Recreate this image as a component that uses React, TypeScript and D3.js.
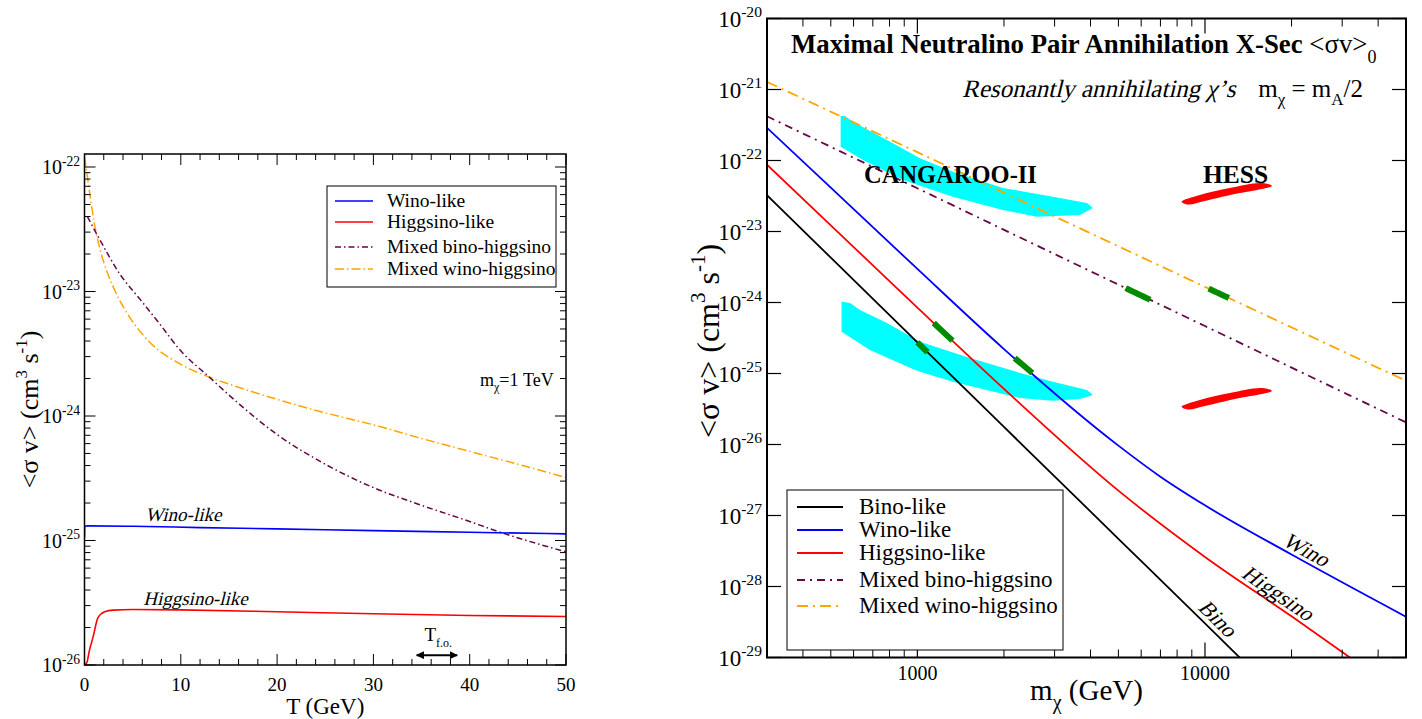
import React from 'react';
import * as d3 from 'd3';

const FONT = '"Liberation Serif", "Times New Roman", Times, serif';
const SKEW = -14; // synthetic italic

// ---------------- Left panel: <σv> vs T (m_χ = 1 TeV) ----------------
const leftXMajor = [0, 10, 20, 30, 40, 50];
const leftXMinor = d3.range(0, 51, 2);
const leftDecades = [-26, -25, -24, -23, -22];

const winoT = [0, 0.02, 0.3, 5, 12, 20, 30, 40, 50];
const winoSv = [1.05e-25, 1.3e-25, 1.31e-25, 1.3e-25, 1.27e-25, 1.24e-25, 1.2e-25, 1.165e-25, 1.13e-25];

const higgsT = [0, 0.25, 0.5, 0.9, 1.4, 2.1, 3, 5, 10, 20, 30, 40, 50];
const higgsSv = [1e-26, 1.05e-26, 1.3e-26, 1.69e-26, 2.4e-26, 2.68e-26, 2.76e-26, 2.79e-26, 2.77e-26, 2.68e-26, 2.58e-26, 2.5e-26, 2.45e-26];

const binoHiggsT = [0.3, 1.6, 3.7, 5.8, 7.8, 9.9, 13, 16.1, 20, 25, 30, 34.8, 40, 42.4, 50];
const binoHiggsSv = [4e-23, 2.6e-23, 1.37e-23, 8.6e-24, 5.5e-24, 3.4e-24, 2.04e-24, 1.24e-24, 7.1e-25, 4.1e-25, 2.66e-25, 1.94e-25, 1.42e-25, 1.22e-25, 8.1e-26];

const winoHiggsT = [0, 0.2, 0.5, 1, 1.6, 2.4, 3.2, 4.7, 6.8, 10, 13, 16, 20, 25, 30, 35, 40, 45, 50];
const winoHiggsSv = [1.2e-22, 9.5e-23, 6.5e-23, 3.6e-23, 2.2e-23, 1.4e-23, 1.0e-23, 6.2e-24, 3.9e-24, 2.6e-24, 2.05e-24, 1.7e-24, 1.36e-24, 1.06e-24, 8.5e-25, 6.6e-25, 5.2e-25, 4.1e-25, 3.2e-25];

const freezeOutT = [34.5, 38.7];
const freezeOutSv = 1.2e-26;

const leftLegend = ['Wino-like', 'Higgsino-like', 'Mixed bino-higgsino', 'Mixed wino-higgsino'];

// ---------------- Right panel: <σv>_0 vs m_χ ----------------
const massLabels = [1000, 10000];
const rightDecades = [-29, -28, -27, -26, -25, -24, -23, -22, -21, -20];

const binoM = [300, 500, 1000, 2000, 5000, 10000, 14000];
const binoSv0 = [3.24e-23, 4.28e-24, 2.75e-25, 1.77e-26, 4.7e-28, 3.02e-29, 7.9e-30];

const winoM = [300, 500, 1000, 2000, 5000, 7000, 10000, 20000, 50000];
const winoSv0 = [2.88e-22, 4.14e-23, 2.97e-24, 2.21e-25, 9.64e-27, 3.52e-27, 1.39e-27, 2.82e-28, 3.75e-29];

const higgsM = [300, 500, 1000, 2000, 5000, 10000, 20000, 33000];
const higgsSv0 = [8.71e-23, 1.22e-23, 8.45e-25, 6.07e-26, 2.24e-27, 2.61e-28, 3.8e-29, 9.1e-30];

const binoHiggsM = [300, 1000, 3000, 10000, 30000, 50000];
const binoHiggsSv0 = [4.19e-22, 4.06e-23, 4.81e-24, 4.66e-25, 5.52e-26, 2.05e-26];

const winoHiggsM = [300, 1000, 3000, 10000, 30000, 50000];
const winoHiggsSv0 = [1.28e-21, 1.31e-22, 1.63e-23, 1.66e-24, 2.07e-25, 7.89e-26];

// green "resonance" segments: mass ranges on each curve
const binoGreen = [1000, 1085];
const higgsGreen = [1140, 1325];
const winoGreen = [2180, 2510];
const binoHiggsGreen = [5300, 6450];
const winoHiggsGreen = [10300, 12100];

// CANGAROO-II regions (mass, <σv>)
const cangarooUpper: [number, number][] = [
  [560, 4.24e-22], [541, 4.24e-22], [541, 1.56e-22], [647, 1.02e-22], [891, 5.31e-23],
  [1329, 3.09e-23], [1984, 2.01e-23], [2604, 1.61e-23], [3673, 1.71e-23], [4077, 2.14e-23],
  [3886, 2.52e-23], [2960, 3.09e-23], [1984, 4.1e-23], [1329, 6.95e-23], [1021, 1.08e-22],
  [784, 1.95e-22], [597, 3.52e-22],
];
const cangarooLower: [number, number][] = [
  [583, 9.84e-25], [545, 1.03e-24], [545, 3.88e-25], [684, 2.14e-25], [955, 1.18e-25],
  [1021, 1.06e-25], [1329, 7.67e-26], [1740, 5.86e-26], [2272, 4.52e-26], [2960, 4.14e-26],
  [3673, 4.38e-26], [4077, 4.98e-26], [3886, 5.86e-26], [2960, 7.67e-26], [2272, 1.02e-25],
  [1523, 1.65e-25], [1021, 2.81e-25], [784, 5.14e-25], [632, 7.83e-25],
];
// HESS regions
const hessUpper: [number, number][] = [
  [8292, 2.63e-23], [9598, 3.27e-23], [12200, 4.1e-23], [15510, 4.82e-23], [16800, 4.59e-23],
  [17080, 4.38e-23], [15760, 3.97e-23], [12700, 3.37e-23], [9990, 2.69e-23], [8720, 2.4e-23],
];
const hessLower: [number, number][] = [
  [8292, 3.4e-26], [9598, 4.24e-26], [12200, 5.31e-26], [15510, 6.25e-26], [16800, 5.96e-26],
  [17080, 5.67e-26], [15760, 5.14e-26], [12700, 4.38e-26], [9990, 3.48e-26], [8720, 3.11e-26],
];

const rightLegend = ['Bino-like', 'Wino-like', 'Higgsino-like', 'Mixed bino-higgsino', 'Mixed wino-higgsino'];

// colours (xmgrace palette)
const BLUE = '#0000ff';
const RED = '#ff0000';
const BLACK = '#000000';
const MAROON = '#670748';
const ORANGE = '#ffa500';
const GREEN = '#008b00';
const CYAN = '#00ffff';

const DASH_BH_L = '6,3,1.5,3';
const DASH_WH_L = '9,3,1.5,3';
const DASH_BH_R = '8,5,2,5';
const DASH_WH_R = '11,5,2,5';

function logInterp(ms: number[], ss: number[], m: number) {
  const lm = Math.log10(m);
  for (let i = 0; i < ms.length - 1; i++) {
    const a = Math.log10(ms[i]);
    const b = Math.log10(ms[i + 1]);
    if (lm >= a && lm <= b) {
      const t = (lm - a) / (b - a);
      return Math.pow(10, Math.log10(ss[i]) * (1 - t) + Math.log10(ss[i + 1]) * t);
    }
  }
  return ss[ss.length - 1];
}

function Pow({ x, y, exp, size, anchor = 'end', base = '10' }: any) {
  return (
    <text x={x} y={y} fontSize={size} textAnchor={anchor} fontFamily={FONT}>
      {base}
      <tspan dy={-size * 0.42} fontSize={size * 0.68}>{exp}</tspan>
    </text>
  );
}

function Ital({ x, y, size, children, anchor = 'start', rotate = 0 }: any) {
  return (
    <text transform={`translate(${x},${y}) rotate(${rotate}) skewX(${SKEW})`} fontSize={size} textAnchor={anchor} fontFamily={FONT}>
      {children}
    </text>
  );
}

export default function App() {
  // ----- left scales -----
  const L = { x0: 84.5, x1: 566, y0: 665, y1: 154 };
  const xL = d3.scaleLinear().domain([0, 50]).range([L.x0, L.x1]);
  const yL = d3.scaleLog().domain([1e-26, Math.pow(10, -26 + (L.y0 - L.y1) / 124.5)]).range([L.y0, L.y1]);
  const lineL = (ts: number[], vs: number[]) =>
    d3.line<number>().x((_, i) => xL(ts[i])).y((_, i) => yL(vs[i])).curve(d3.curveMonotoneX)(ts as any) || '';

  // ----- right scales -----
  const R = { x0: 767, x1: 1406, y0: 657.5, y1: 18.5 };
  const xR = d3.scaleLog().domain([300, 50000]).range([R.x0, R.x1]);
  const yR = d3.scaleLog().domain([1e-29, 1e-20]).range([R.y0, R.y1]);
  const lineR = (ms: number[], vs: number[]) =>
    d3.line<number>().x((_, i) => xR(ms[i])).y((_, i) => yR(vs[i])).curve(d3.curveMonotoneX)(ms as any) || '';
  const segR = (ms: number[], vs: number[], r: number[]) => {
    const pts = d3.range(0, 11).map((k) => {
      const m = r[0] * Math.pow(r[1] / r[0], k / 10);
      return [xR(m), yR(logInterp(ms, vs, m))] as [number, number];
    });
    return d3.line()(pts) || '';
  };
  const blob = (pts: [number, number][], curve: any) =>
    d3.line<[number, number]>().x((d) => xR(d[0])).y((d) => yR(d[1])).curve(curve)(pts) || '';

  const curveLabel = (ms: number[], vs: number[], m: number, off: number) => {
    const x = xR(m), y = yR(logInterp(ms, vs, m));
    const x2 = xR(m * 1.05), y2 = yR(logInterp(ms, vs, m * 1.05));
    const ang = (Math.atan2(y2 - y, x2 - x) * 180) / Math.PI;
    const rad = (ang * Math.PI) / 180;
    return { x: x + off * Math.sin(rad), y: y - off * Math.cos(rad), ang };
  };

  // minor ticks
  const leftYMinor: number[] = [];
  for (let e = -26; e <= -22; e++) for (let k = 2; k <= 9; k++) { const v = k * Math.pow(10, e); if (v <= yL.domain()[1]) leftYMinor.push(v); }
  const rightXMinor: number[] = [];
  for (let e = 2; e <= 4; e++) for (let k = 2; k <= 9; k++) { const v = k * Math.pow(10, e); if (v > 300 && v < 50000) rightXMinor.push(v); }
  const rightXMajor = [1000, 10000];

  const wino = curveLabel(winoM, winoSv0, 21500, 4);
  const higg = curveLabel(higgsM, higgsSv0, 17000, 4);
  const bino = curveLabel(binoM, binoSv0, 10300, 5);

  return (
    <svg width={1422} height={719} style={{ position: 'absolute', left: 0, top: 0, background: '#fff' }} fontFamily={FONT}>
      <defs>
        <clipPath id="clipL"><rect x={L.x0} y={L.y1} width={L.x1 - L.x0} height={L.y0 - L.y1} /></clipPath>
        <clipPath id="clipR"><rect x={R.x0} y={R.y1} width={R.x1 - R.x0} height={R.y0 - R.y1} /></clipPath>
        <marker id="arr" viewBox="0 0 10 10" refX="9" refY="5" markerWidth="4" markerHeight="4" orient="auto-start-reverse">
          <path d="M0,0 L10,5 L0,10 z" fill="#000" />
        </marker>
      </defs>

      {/* ================= LEFT PANEL ================= */}
      <g clipPath="url(#clipL)" fill="none">
        <path d={lineL(winoHiggsT, winoHiggsSv)} stroke={ORANGE} strokeWidth={1.5} strokeDasharray={DASH_WH_L} />
        <path d={lineL(binoHiggsT, binoHiggsSv)} stroke={MAROON} strokeWidth={1.5} strokeDasharray={DASH_BH_L} />
        <path d={lineL(winoT, winoSv)} stroke={BLUE} strokeWidth={1.6} />
        <path d={lineL(higgsT, higgsSv)} stroke={RED} strokeWidth={1.6} />
      </g>
      <rect x={L.x0} y={L.y1} width={L.x1 - L.x0} height={L.y0 - L.y1} fill="none" stroke="#000" strokeWidth={1.5} />
      {leftXMinor.map((t) => {
        const maj = t % 10 === 0;
        const len = maj ? 11 : 6;
        return (
          <g key={'lx' + t} stroke="#000" strokeWidth={1}>
            <line x1={xL(t)} x2={xL(t)} y1={L.y0} y2={L.y0 - len} />
            <line x1={xL(t)} x2={xL(t)} y1={L.y1} y2={L.y1 + len} />
          </g>
        );
      })}
      {leftDecades.map((e) => (
        <g key={'ly' + e} stroke="#000" strokeWidth={1}>
          <line x1={L.x0} x2={L.x0 + 11} y1={yL(Math.pow(10, e))} y2={yL(Math.pow(10, e))} />
          <line x1={L.x1} x2={L.x1 - 11} y1={yL(Math.pow(10, e))} y2={yL(Math.pow(10, e))} />
        </g>
      ))}
      {leftYMinor.map((v, i) => (
        <g key={'lym' + i} stroke="#000" strokeWidth={1}>
          <line x1={L.x0} x2={L.x0 + 6} y1={yL(v)} y2={yL(v)} />
          <line x1={L.x1} x2={L.x1 - 6} y1={yL(v)} y2={yL(v)} />
        </g>
      ))}
      {leftDecades.map((e) => (
        <Pow key={'lyl' + e} x={80} y={yL(Math.pow(10, e)) + 7} exp={String(e)} size={20} />
      ))}
      {leftXMajor.map((t) => (
        <text key={'lxl' + t} x={xL(t)} y={691} fontSize={19} textAnchor="middle">{t}</text>
      ))}
      <text x={(L.x0 + L.x1) / 2} y={714} fontSize={23} textAnchor="middle">T (GeV)</text>
      <text transform={`translate(38,${(L.y0 + L.y1) / 2}) rotate(-90)`} fontSize={26} textAnchor="middle">
        {'<σ v> (cm'}<tspan dy={-11} fontSize={17}>3</tspan><tspan dy={11}>{' s'}</tspan><tspan dy={-11} fontSize={17}>-1</tspan><tspan dy={11}>)</tspan>
      </text>
      {/* legend */}
      <rect x={327} y={186} width={229} height={101} fill="#fff" stroke="#000" strokeWidth={1} />
      {leftLegend.map((name, i) => {
        const y = [201, 222, 247, 269][i];
        const stroke = [BLUE, RED, MAROON, ORANGE][i];
        const dash = [undefined, undefined, DASH_BH_L, DASH_WH_L][i];
        return (
          <g key={name}>
            <line x1={335} x2={373} y1={y} y2={y} stroke={stroke} strokeWidth={1.5} strokeDasharray={dash} />
            <text x={387} y={y + 6} fontSize={19.5}>{name}</text>
          </g>
        );
      })}
      <text x={480} y={386} fontSize={18}>m<tspan dy={5} fontSize={12}>χ</tspan><tspan dy={-5}>=1 TeV</tspan></text>
      <Ital x={xL(6.3)} y={yL(1.3e-25) - 5} size={19}>Wino-like</Ital>
      <Ital x={xL(6.1)} y={yL(2.78e-26) - 5} size={19}>Higgsino-like</Ital>
      <line x1={xL(freezeOutT[0])} x2={xL(freezeOutT[1])} y1={yL(freezeOutSv)} y2={yL(freezeOutSv)} stroke="#000" strokeWidth={2}
        markerStart="url(#arr)" markerEnd="url(#arr)" />
      <text x={xL(35.3)} y={yL(freezeOutSv) - 14} fontSize={19}>T<tspan dy={6} fontSize={12}>f.o.</tspan></text>

      {/* ================= RIGHT PANEL ================= */}
      <g clipPath="url(#clipR)">
        <path d={blob(cangarooUpper, d3.curveLinearClosed)} fill={CYAN} />
        <path d={blob(cangarooLower, d3.curveLinearClosed)} fill={CYAN} />
        <path d={blob(hessUpper, d3.curveCatmullRomClosed)} fill={RED} />
        <path d={blob(hessLower, d3.curveCatmullRomClosed)} fill={RED} />
        <g fill="none">
          <path d={lineR(winoHiggsM, winoHiggsSv0)} stroke={ORANGE} strokeWidth={1.8} strokeDasharray={DASH_WH_R} />
          <path d={lineR(binoHiggsM, binoHiggsSv0)} stroke={MAROON} strokeWidth={1.8} strokeDasharray={DASH_BH_R} />
          <path d={lineR(binoM, binoSv0)} stroke={BLACK} strokeWidth={1.8} />
          <path d={lineR(winoM, winoSv0)} stroke={BLUE} strokeWidth={1.8} />
          <path d={lineR(higgsM, higgsSv0)} stroke={RED} strokeWidth={1.8} />
          <path d={segR(binoM, binoSv0, binoGreen)} stroke={GREEN} strokeWidth={6} />
          <path d={segR(higgsM, higgsSv0, higgsGreen)} stroke={GREEN} strokeWidth={6} />
          <path d={segR(winoM, winoSv0, winoGreen)} stroke={GREEN} strokeWidth={6} />
          <path d={segR(binoHiggsM, binoHiggsSv0, binoHiggsGreen)} stroke={GREEN} strokeWidth={6} />
          <path d={segR(winoHiggsM, winoHiggsSv0, winoHiggsGreen)} stroke={GREEN} strokeWidth={6} />
        </g>
      </g>
      <rect x={R.x0} y={R.y1} width={R.x1 - R.x0} height={R.y0 - R.y1} fill="none" stroke="#000" strokeWidth={2} />
      {rightDecades.map((e) => (
        <g key={'ry' + e} stroke="#000" strokeWidth={1.2}>
          <line x1={R.x0} x2={R.x0 + 14} y1={yR(Math.pow(10, e))} y2={yR(Math.pow(10, e))} />
          <line x1={R.x1} x2={R.x1 - 14} y1={yR(Math.pow(10, e))} y2={yR(Math.pow(10, e))} />
        </g>
      ))}
      {rightXMinor.map((m) => (
        <g key={'rxm' + m} stroke="#000" strokeWidth={1}>
          <line x1={xR(m)} x2={xR(m)} y1={R.y0} y2={R.y0 - 8} />
          <line x1={xR(m)} x2={xR(m)} y1={R.y1} y2={R.y1 + 8} />
        </g>
      ))}
      {rightXMajor.map((m) => (
        <g key={'rxM' + m} stroke="#000" strokeWidth={1.2}>
          <line x1={xR(m)} x2={xR(m)} y1={R.y0} y2={R.y0 - 15} />
          <line x1={xR(m)} x2={xR(m)} y1={R.y1} y2={R.y1 + 15} />
        </g>
      ))}
      {rightDecades.map((e) => (
        <Pow key={'ryl' + e} x={762} y={yR(Math.pow(10, e)) + 8} exp={String(e)} size={23} />
      ))}
      {massLabels.map((m) => (
        <text key={'rxl' + m} x={xR(m)} y={680} fontSize={20} textAnchor="middle">{m}</text>
      ))}
      <text x={(R.x0 + R.x1) / 2} y={700} fontSize={29} textAnchor="middle">
        m<tspan dy={9} fontSize={20}>χ</tspan><tspan dy={-9}>{' (GeV)'}</tspan>
      </text>
      <text transform={`translate(719,${(R.y0 + R.y1) / 2 + 3}) rotate(-90)`} fontSize={32} textAnchor="middle">
        {'<σ v> (cm'}<tspan dy={-14} fontSize={21}>3</tspan><tspan dy={14}>{' s'}</tspan><tspan dy={-14} fontSize={21}>-1</tspan><tspan dy={14}>)</tspan>
      </text>

      <text x={791} y={53} fontSize={26.8} fontWeight="bold">
        Maximal Neutralino Pair Annihilation X-Sec <tspan fontWeight="normal">{'<σv>'}</tspan>
        <tspan dy={10} fontSize={18} fontWeight="normal">0</tspan>
      </text>
      <Ital x={962} y={97} size={25}>{'Resonantly annihilating χ’s'}</Ital>
      <text x={1363} y={97} fontSize={25} textAnchor="end">
        m<tspan dy={8} fontSize={17}>χ</tspan><tspan dy={-8}>{' = m'}</tspan>
        <tspan dy={8} fontSize={17}>A</tspan><tspan dy={-8}>/2</tspan>
      </text>
      <text x={864} y={183} fontSize={24.5} fontWeight="bold">CANGAROO-II</text>
      <text x={1203} y={183} fontSize={25.5} fontWeight="bold">HESS</text>

      <Ital x={wino.x} y={wino.y} rotate={wino.ang} size={22} anchor="middle">Wino</Ital>
      <Ital x={higg.x} y={higg.y} rotate={higg.ang} size={22} anchor="middle">Higgsino</Ital>
      <Ital x={bino.x} y={bino.y} rotate={bino.ang} size={22} anchor="middle">Bino</Ital>

      {/* legend */}
      <rect x={787} y={490} width={276} height={160} fill="#fff" stroke="#000" strokeWidth={1} />
      {rightLegend.map((name, i) => {
        const y = [507, 530, 553, 580, 606][i];
        const stroke = [BLACK, BLUE, RED, MAROON, ORANGE][i];
        const dash = [undefined, undefined, undefined, DASH_BH_R, DASH_WH_R][i];
        return (
          <g key={name}>
            <line x1={797} x2={843} y1={y} y2={y} stroke={stroke} strokeWidth={1.8} strokeDasharray={dash} />
            <text x={859} y={y + 7} fontSize={23}>{name}</text>
          </g>
        );
      })}
    </svg>
  );
}
